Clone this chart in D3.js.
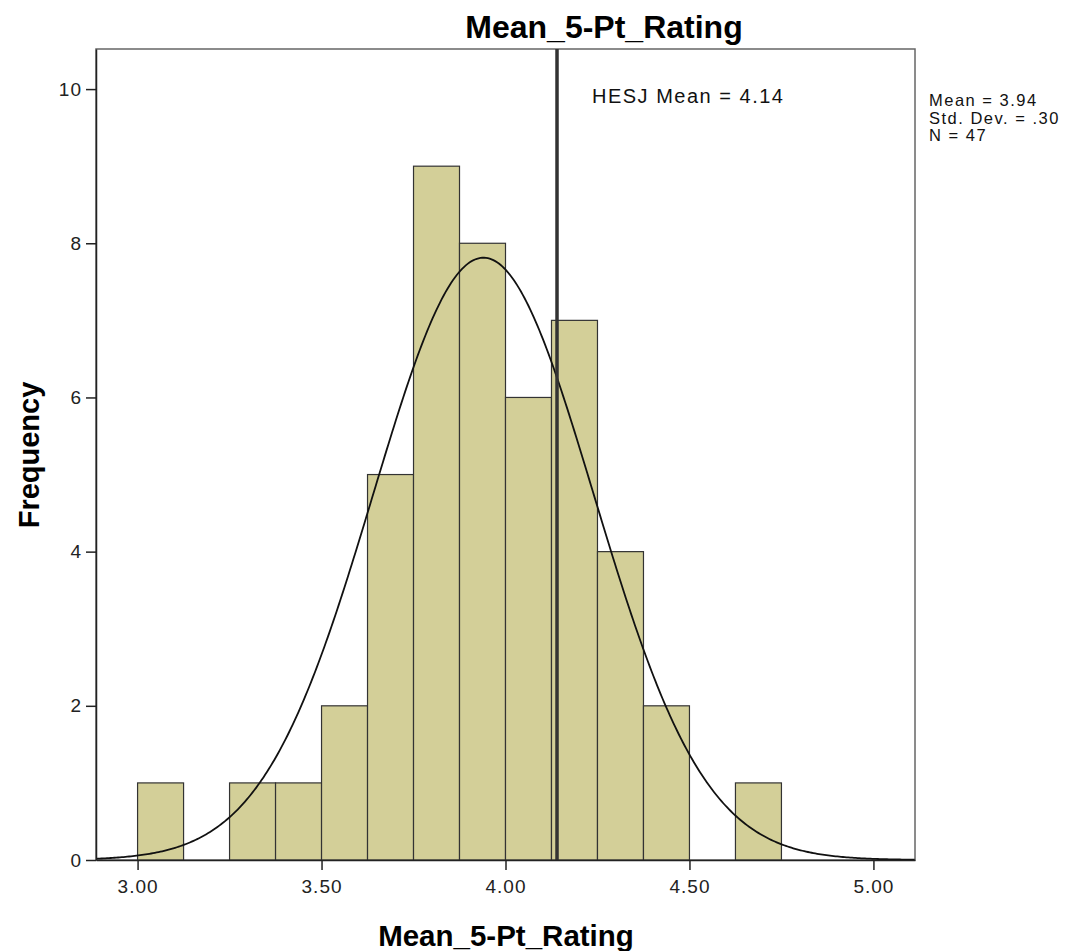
<!DOCTYPE html>
<meta charset="utf-8">
<head>
	<title>Mean_5-Pt_Rating</title>
	<script src="https://cdnjs.cloudflare.com/ajax/libs/d3/7.8.5/d3.min.js" charset="utf-8"></script>
</head>
<style type="text/css">
	body { margin: 0; background: #fff; font-family: "Liberation Sans", Arial, sans-serif; }
	.tick text { font-size: 19px; fill: #222; letter-spacing: 1px; }
	.bar { fill: #d3cf98; stroke: #333; stroke-width: 1.2; }
</style>
<body>
<div id="chart"></div>
<script>
	// histogram bins (lower edge) and counts
	var binStarts = [3.000, 3.125, 3.250, 3.375, 3.500, 3.625, 3.750, 3.875, 4.000, 4.125, 4.250, 4.375, 4.500, 4.625];
	var counts    = [1, 0, 1, 1, 2, 5, 9, 8, 6, 7, 4, 2, 0, 1];
	var binWidth = 0.125;

	var xTicks = [3.00, 3.50, 4.00, 4.50, 5.00];
	var yTicks = [0, 2, 4, 6, 8, 10];

	var stats = {mean: 3.94, sd: 0.30, n: 47};
	var refMean = 4.14;
	var statLines = ["Mean = 3.94", "Std. Dev. = .30", "N = 47"];

	var W = 1075, H = 951;
	var margin = {top: 49, right: 160, bottom: 91, left: 96};
	var width = W - margin.left - margin.right,
		height = H - margin.top - margin.bottom;

	var x = d3.scaleLinear().domain([2.887, 5.113]).range([0, width]);
	var y = d3.scaleLinear().domain([0, 10.52]).range([height, 0]);

	var svg = d3.select("#chart").append("svg")
		.attr("width", W).attr("height", H);

	var g = svg.append("g")
		.attr("transform", "translate(" + margin.left + "," + margin.top + ")");

	// frame
	g.append("rect")
		.attr("width", width).attr("height", height)
		.attr("fill", "none").attr("stroke", "#666").attr("stroke-width", 1.5);

	var data = binStarts.map(function(b, i) { return {x0: b, count: counts[i]}; })
		.filter(function(d) { return d.count > 0; });

	g.selectAll(".bar")
		.data(data)
	 .enter().append("rect")
		.attr("class", "bar")
		.attr("x", function(d) { return x(d.x0); })
		.attr("width", function(d) { return x(d.x0 + binWidth) - x(d.x0); })
		.attr("y", function(d) { return y(d.count); })
		.attr("height", function(d) { return height - y(d.count); });

	// normal curve from the stats
	var curvePts = d3.range(x.domain()[0], x.domain()[1] + 0.001, 0.005).map(function(v) {
		var z = (v - stats.mean) / stats.sd;
		return [v, stats.n * binWidth / (stats.sd * Math.sqrt(2 * Math.PI)) * Math.exp(-0.5 * z * z)];
	});
	g.append("path")
		.datum(curvePts)
		.attr("fill", "none").attr("stroke", "#111").attr("stroke-width", 1.8)
		.attr("d", d3.line().x(function(d) { return x(d[0]); }).y(function(d) { return y(d[1]); }));

	// reference mean line
	g.append("line")
		.attr("x1", x(refMean)).attr("x2", x(refMean))
		.attr("y1", 0).attr("y2", height)
		.attr("stroke", "#333").attr("stroke-width", 3.5);

	g.append("text")
		.attr("x", x(refMean) + 35).attr("y", 54)
		.style("font-size", "20px").style("letter-spacing", "1.5px").attr("fill", "#111")
		.text("HESJ Mean = " + refMean.toFixed(2));

	// axes
	var xAxis = g.append("g")
		.attr("transform", "translate(0," + height + ")")
		.call(d3.axisBottom(x).tickValues(xTicks).tickFormat(d3.format(".2f")).tickSize(10).tickSizeOuter(0).tickPadding(10));
	xAxis.select(".domain").attr("stroke", "#222").attr("stroke-width", 1.5);
	xAxis.selectAll(".tick line").attr("stroke", "#222").attr("stroke-width", 1.5);

	var yAxis = g.append("g")
		.call(d3.axisLeft(y).tickValues(yTicks).tickSize(10).tickSizeOuter(0).tickPadding(4));
	yAxis.select(".domain").attr("stroke", "#222").attr("stroke-width", 1.5);
	yAxis.selectAll(".tick line").attr("stroke", "#222").attr("stroke-width", 1.5);

	// titles
	svg.append("text")
		.attr("x", 604).attr("y", 38)
		.attr("text-anchor", "middle")
		.style("font-size", "32px").style("font-weight", "bold")
		.text("Mean_5-Pt_Rating");

	svg.append("text")
		.attr("x", 506).attr("y", 946)
		.attr("text-anchor", "middle")
		.style("font-size", "29.5px").style("font-weight", "bold")
		.text("Mean_5-Pt_Rating");

	svg.append("text")
		.attr("transform", "translate(39," + 455 + ") rotate(-90)")
		.attr("text-anchor", "middle")
		.style("font-size", "29px").style("font-weight", "bold")
		.text("Frequency");

	// stats box text
	svg.append("g").selectAll("text")
		.data(statLines)
	 .enter().append("text")
		.attr("x", 929)
		.attr("y", function(d, i) { return 106 + i * 17.5; })
		.style("font-size", "16.5px").style("letter-spacing", "1.5px").attr("fill", "#111")
		.text(function(d) { return d; });
</script>
</body>
